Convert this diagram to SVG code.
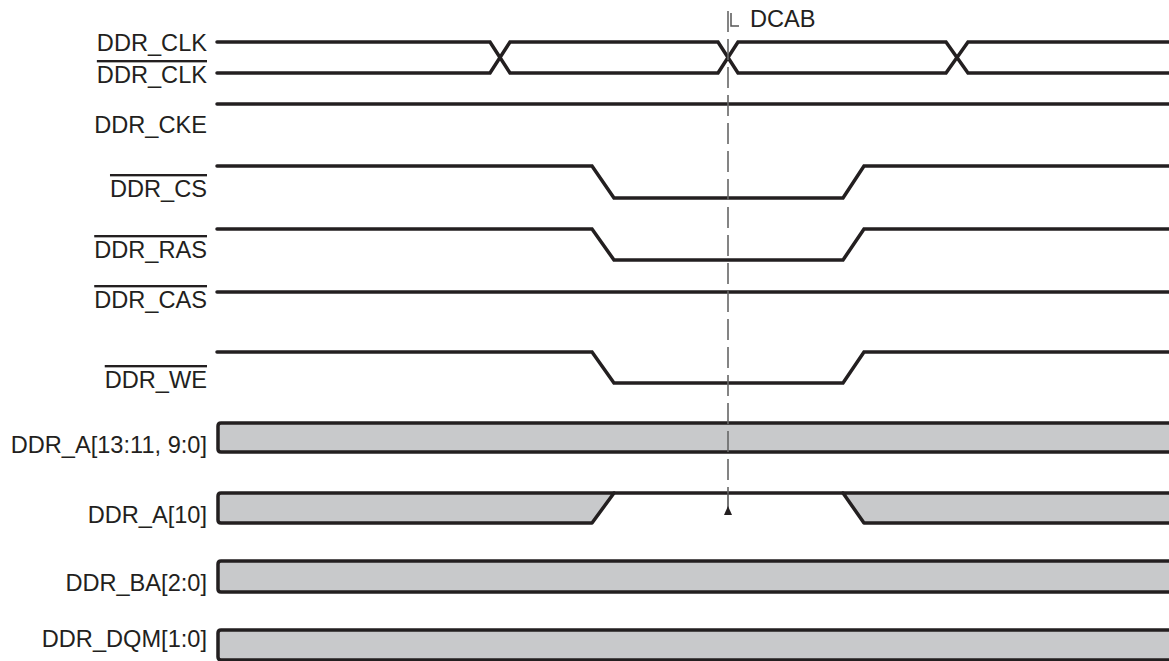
<svg xmlns="http://www.w3.org/2000/svg" width="1169" height="661" viewBox="0 0 1169 661">
<defs>
<style>
.sig{fill:none;stroke:#231f20;stroke-width:3.5;stroke-linecap:round;stroke-linejoin:miter}
.bus{fill:#c8c9cb;stroke:#231f20;stroke-width:3.5;stroke-linejoin:round}
.lbl{font-family:"Liberation Sans",Arial,sans-serif;font-size:23.6px;fill:#231f20;text-anchor:end}
.ol{text-decoration:overline}
.mark{fill:none;stroke:#555;stroke-width:1.5}
.dash{fill:none;stroke:#666;stroke-width:1.6;stroke-dasharray:21 7}
</style>
</defs>
<rect width="1169" height="661" fill="#fff"/>

<g id="ddr_clk">
<text class="lbl" x="207" y="51">DDR_CLK</text>
<path class="sig" d="M217,42 H490 L510,73 H718 L738,42 H946 L968,73 H1175"/>
</g>
<g id="ddr_clk_n">
<text class="lbl ol" x="207" y="83">DDR_CLK</text>
<path class="sig" d="M217,73 H490 L510,42 H718 L738,73 H946 L968,42 H1175"/>
</g>
<g id="ddr_cke">
<text class="lbl" x="207" y="133">DDR_CKE</text>
<path class="sig" d="M217,104 H1175"/>
</g>
<g id="ddr_cs">
<text class="lbl ol" x="207" y="197">DDR_CS</text>
<path class="sig" d="M217,166 H592 L614,198 H843 L864,166 H1175"/>
</g>
<g id="ddr_ras">
<text class="lbl ol" x="207" y="258">DDR_RAS</text>
<path class="sig" d="M217,229 H592 L614,260 H843 L864,229 H1175"/>
</g>
<g id="ddr_cas">
<text class="lbl ol" x="207" y="308">DDR_CAS</text>
<path class="sig" d="M217,292 H1175"/>
</g>
<g id="ddr_we">
<text class="lbl ol" x="207" y="388">DDR_WE</text>
<path class="sig" d="M217,352 H592 L614,383 H843 L864,352 H1175"/>
</g>
<g id="ddr_a">
<text class="lbl" x="207" y="453">DDR_A[13:11, 9:0]</text>
<path class="bus" d="M1180,423 H221 Q218,423 218,426 V449 Q218,452 221,452 H1180 Z"/>
</g>
<g id="ddr_a10">
<text class="lbl" x="207" y="523">DDR_A[10]</text>
<path class="bus" d="M614,493 H221 Q218,493 218,496 V520 Q218,523 221,523 H592 Z"/>
<path class="sig" d="M614,493 H843"/>
<path class="bus" d="M843,493 H1180 V523 H864 Z"/>
</g>
<g id="ddr_ba">
<text class="lbl" x="207" y="591">DDR_BA[2:0]</text>
<path class="bus" d="M1180,561 H221 Q218,561 218,564 V589 Q218,592 221,592 H1180 Z"/>
</g>
<g id="ddr_dqm">
<text class="lbl" x="207" y="647">DDR_DQM[1:0]</text>
<path class="bus" d="M1180,630 H221 Q218,630 218,633 V657 Q218,660 221,660 H1180 Z"/>
</g>

<g id="connectors">
<path class="dash" d="M728,11 V493"/>
<path d="M728,493 V508" fill="none" stroke="#555" stroke-width="1.6"/>
<path d="M724,515 L728,506 L732,515 Z" fill="#231f20"/>
<path class="mark" d="M731,13 V26 H739"/>
<text x="750" y="27" style="font-family:'Liberation Sans',Arial,sans-serif;font-size:23.6px;fill:#231f20">DCAB</text>
</g>
</svg>
